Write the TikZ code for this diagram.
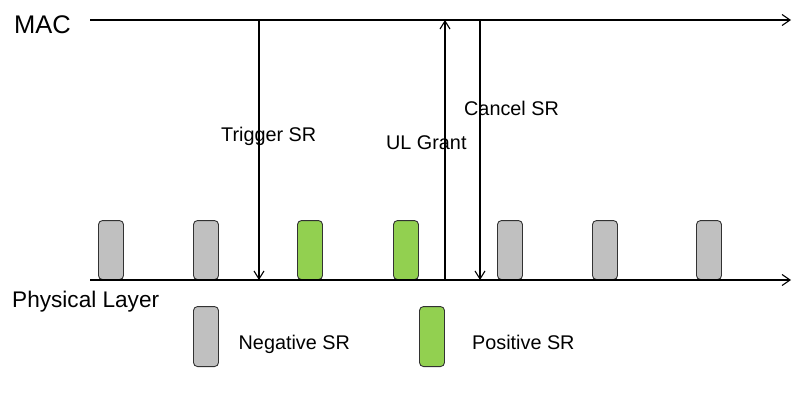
\documentclass[tikz,border=0pt]{standalone}
\usepackage{fontspec}
\setmainfont{Liberation Sans}
\usetikzlibrary{arrows.meta}
\definecolor{neggray}{RGB}{192,192,192}
\definecolor{posgreen}{RGB}{146,208,80}
\definecolor{boxedge}{RGB}{50,50,50}
\begin{document}
\begin{tikzpicture}[x=1pt,y=-1pt,
  lbl/.style={font=\fontsize{19.8}{22}\selectfont, inner sep=0pt, anchor=base west},
  srbox/.style={draw=boxedge, line width=0.9pt, rounded corners=4pt, minimum width=25pt, minimum height=59pt, inner sep=0pt, anchor=south},
  negbox/.style={srbox, fill=neggray},
  posbox/.style={srbox, fill=posgreen},
  axisline/.style={line width=1.1pt, -{Straight Barb[length=8pt,width=11pt]}},
  sigline/.style={line width=1.1pt, -{Straight Barb[length=8pt,width=10pt]}}]
\useasboundingbox (0,0) rectangle (804,394);
% SR occasions
\node[negbox] (b1) at (111,280) {};
\node[negbox] (b2) at (206,280) {};
\node[posbox] (b3) at (310,280) {};
\node[posbox] (b4) at (406,280) {};
\node[negbox] (b5) at (510,280) {};
\node[negbox] (b6) at (605,280) {};
\node[negbox] (b7) at (709,280) {};
% axes
\coordinate (macS) at (90,20);
\coordinate (macE) at (791,20);
\coordinate (phyS) at (90,280);
\coordinate (phyE) at (791,280);
\draw[axisline] (macS) -- (macE);
\draw[axisline] (phyS) -- (phyE);
% signals
\coordinate (trigT) at (259,20);
\coordinate (trigB) at (259,280);
\coordinate (ulT) at (445,20);
\coordinate (ulB) at (445,280);
\coordinate (canT) at (480,20);
\coordinate (canB) at (480,280);
\draw[sigline] (trigT) -- (trigB);
\draw[sigline] (ulB) -- (ulT);
\draw[sigline] (canT) -- (canB);
% labels
\node[lbl, font=\fontsize{25.5}{28}\selectfont] (mac) at (14,33) {MAC};
\node[lbl, font=\fontsize{22.6}{25}\selectfont] (phy) at (12,307) {Physical Layer};
\node[lbl] (trig) at (221,141) {Trigger SR};
\node[lbl] (ul) at (386,149.5) {UL Grant};
\node[lbl] (can) at (464,115) {Cancel SR};
% legend
\node[negbox, minimum height=60pt] (lneg) at (206,367) {};
\node[lbl] (tneg) at (238.5,349) {Negative SR};
\node[posbox, minimum height=60pt] (lpos) at (432,367) {};
\node[lbl] (tpos) at (472,349) {Positive SR};
\end{tikzpicture}
\end{document}
